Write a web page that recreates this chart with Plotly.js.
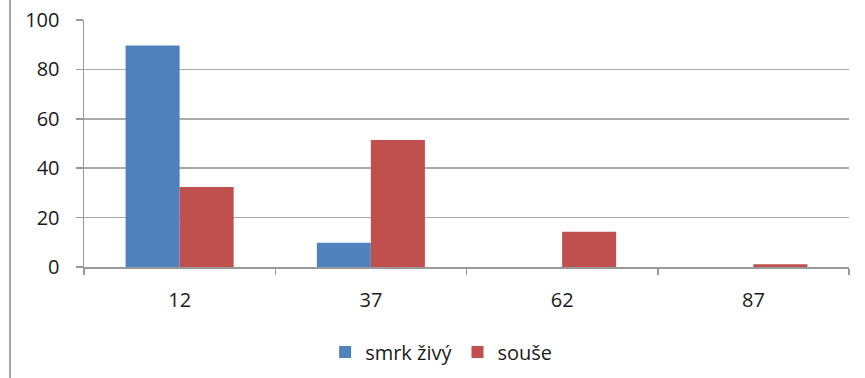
<!DOCTYPE html>
<html>
<head>
<meta charset="utf-8">
<script src="https://cdn.plot.ly/plotly-3.0.1.min.js"></script>
<style>html,body{margin:0;padding:0;background:#fff;}#chart{width:865px;height:378px;}</style>
</head>
<body>
<div id="chart"></div>
<script>
const categories = ["12", "37", "62", "87"];
const seriesNames = ["smrk živý", "souše"];
const smrkZivy = [89.7, 9.8, 0, 0];
const souse = [32.4, 51.4, 14.3, 1.1];
const yTicks = [0, 20, 40, 60, 80, 100];

const font = {family: "Open Sans, Liberation Sans, sans-serif", size: 20, color: "#1a1a1a"};
const traces = [
  {type: "bar", name: seriesNames[0], x: categories, y: smrkZivy, marker: {color: "#4F81BD"}},
  {type: "bar", name: seriesNames[1], x: categories, y: souse, marker: {color: "#C0504D"}}
];
const layout = {
  width: 865, height: 378,
  margin: {l: 84, r: 16, t: 20, b: 111, autoexpand: false},
  paper_bgcolor: "#fff", plot_bgcolor: "#fff",
  font: font,
  barmode: "group", bargap: 0.435, bargroupgap: 0,
  showlegend: true,
  legend: {orientation: "h", xref: "container", yref: "container", x: 0.510, xanchor: "center", y: 0.069, yanchor: "middle",
           font: font, itemwidth: 30, traceorder: "normal"},
  xaxis: {
    type: "category", tickson: "boundaries", ticks: "outside", ticklen: 6, tickcolor: "#999", tickwidth: 1.5,
    showline: true, linecolor: "#999", linewidth: 1.5, showgrid: false, zeroline: false,
    tickfont: font, ticklabelstandoff: 14
  },
  yaxis: {
    range: [0, 100], tickvals: yTicks, ticktext: yTicks.map(String),
    ticks: "outside", ticklen: 7, tickcolor: "#999", tickwidth: 1.5,
    showline: true, linecolor: "#999", linewidth: 1.5,
    showgrid: true, gridcolor: "#aaa", gridwidth: 1.5, zeroline: false,
    tickfont: font, ticklabelstandoff: 12
  },
  shapes: [
    {type: "line", xref: "paper", yref: "paper", x0: -0.0967, x1: -0.0967, y0: -0.46, y1: 1.09,
     line: {color: "#888", width: 1.5}}
  ]
};
Plotly.newPlot("chart", traces, layout, {displayModeBar: false, staticPlot: true});
</script>
</body>
</html>
